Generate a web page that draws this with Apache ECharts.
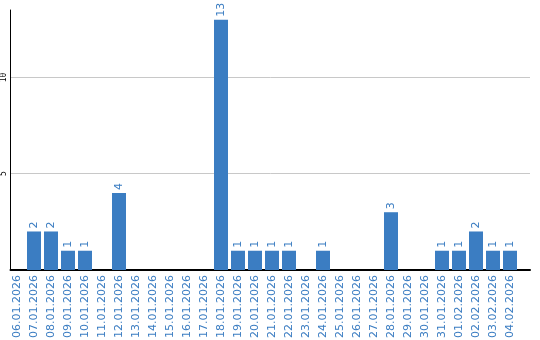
<!DOCTYPE html>
<html><head><meta charset="utf-8">
<script src="https://cdn.jsdelivr.net/npm/echarts@6/dist/echarts.min.js"></script>
<style>html,body{margin:0;padding:0;background:#fff}#c{width:540px;height:340px}</style>
</head><body><div id="c"></div>
<script>
var categories = ['06.01.2026','07.01.2026','08.01.2026','09.01.2026','10.01.2026','11.01.2026','12.01.2026','13.01.2026','14.01.2026','15.01.2026','16.01.2026','17.01.2026','18.01.2026','19.01.2026','20.01.2026','21.01.2026','22.01.2026','23.01.2026','24.01.2026','25.01.2026','26.01.2026','27.01.2026','28.01.2026','29.01.2026','30.01.2026','31.01.2026','01.02.2026','02.02.2026','03.02.2026','04.02.2026'];
var values = [0,2,2,1,1,0,4,0,0,0,0,0,13,1,1,1,1,0,1,0,0,0,3,0,0,1,1,2,1,1];
var yTicks = [0,5,10];
var yMax = 13.5;
var blue = '#3b7dc2';
var chart = echarts.init(document.getElementById('c'));
chart.setOption({
  animation: false,
  grid: [
    {left: 8.5, width: 510, top: 10, bottom: 70, outerBoundsMode: 'none', containLabel: false},
    {left: 10.5, right: 10, top: 10, bottom: 70, outerBoundsMode: 'none', containLabel: false}
  ],
  xAxis: [
    {type: 'category', gridIndex: 0, data: categories,
     axisLine: {show: false}, axisTick: {show: false},
     axisLabel: {rotate: 90, interval: 0, color: blue, fontFamily: 'DejaVu Sans', fontSize: 11, margin: 5}},
    {type: 'value', gridIndex: 1, min: 0, max: 1,
     axisLine: {show: true, onZero: false, lineStyle: {color: '#000', width: 2}},
     axisTick: {show: false}, axisLabel: {show: false}, splitLine: {show: false}}
  ],
  yAxis: [
    {type: 'value', gridIndex: 0, min: 0, max: yMax, interval: 5,
     axisLine: {show: false}, axisTick: {show: false},
     axisLabel: {rotate: 90, color: '#000', fontFamily: 'DejaVu Sans Mono', fontSize: 8, margin: 1,
       formatter: function(v){ return (v === 0 || yTicks.indexOf(v) < 0) ? '' : String(v); }},
     splitLine: {show: false}},
    {type: 'value', gridIndex: 1, min: 0, max: yMax, interval: 5,
     axisLine: {show: true, onZero: false, lineStyle: {color: '#000', width: 1}},
     axisTick: {show: false}, axisLabel: {show: false},
     splitLine: {show: true, showMinLine: false, showMaxLine: false, lineStyle: {color: '#c8c8c8', width: 1}}}
  ],
  series: [{
    type: 'bar', xAxisIndex: 0, yAxisIndex: 0, data: values, barWidth: 14,
    itemStyle: {color: blue},
    label: {show: true, position: 'top', rotate: 90, align: 'left', verticalAlign: 'middle',
      distance: 3, color: blue, fontFamily: 'DejaVu Sans', fontSize: 11,
      formatter: function(p){ return p.value ? String(p.value) : ''; }}
  }]
});
</script></body></html>
